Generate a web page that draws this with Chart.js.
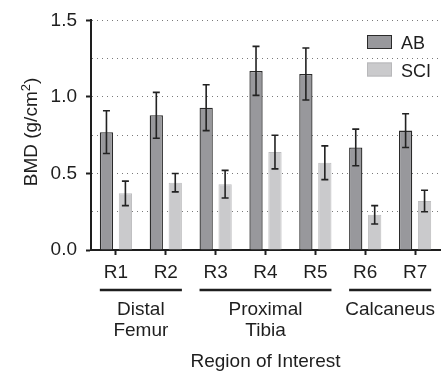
<!DOCTYPE html>
<html>
<head>
<meta charset="utf-8">
<script src="https://cdn.jsdelivr.net/npm/chart.js@4/dist/chart.umd.min.js"></script>
<style>
  html, body { margin: 0; padding: 0; background: #fff; }
  #wrap { width: 442px; height: 372px; }
</style>
</head>
<body>
<div id="wrap"><canvas id="bmdChart" width="442" height="372"></canvas></div>
<script>
// data
const regions = ['R1', 'R2', 'R3', 'R4', 'R5', 'R6', 'R7'];
const abMean = [0.77, 0.88, 0.93, 1.17, 1.15, 0.67, 0.78];
const abErr = [0.14, 0.15, 0.15, 0.16, 0.17, 0.12, 0.11];
const sciMean = [0.37, 0.44, 0.43, 0.64, 0.57, 0.23, 0.32];
const sciErr = [0.08, 0.06, 0.09, 0.11, 0.11, 0.06, 0.07];

// anatomical groups under the region labels
const groupNames = [['Distal', 'Femur'], ['Proximal', 'Tibia'], ['Calcaneus']];
const groupStart = [0, 2, 5];
const groupEnd = [1, 4, 6];

const yTitle = 'BMD (g/cm';
const xTitle = 'Region of Interest';

const FONT = '"Liberation Sans", Arial, Helvetica, sans-serif';
const INK = '#1e1e1e';
const AB_FILL = '#98989c';
const SCI_FILL = '#cacacc';

function isMajor(v) {
	return Math.abs(v * 2 - Math.round(v * 2)) < 1e-6;
}

// error bars, group brackets, legend and titles are drawn here
const extras = {
	id: 'extras',
	afterDatasetsDraw(chart) {
		const ctx = chart.ctx;
		const y = chart.scales.y;
		const errs = [abErr, sciErr];
		ctx.save();
		ctx.strokeStyle = '#222';
		ctx.lineWidth = 1.6;
		chart.data.datasets.forEach((ds, d) => {
			chart.getDatasetMeta(d).data.forEach((bar, i) => {
				let top = y.getPixelForValue(ds.data[i] + errs[d][i]);
				let bot = y.getPixelForValue(ds.data[i] - errs[d][i]);
				let x = bar.x;
				ctx.beginPath();
				ctx.moveTo(x, top); ctx.lineTo(x, bot);
				ctx.moveTo(x - 3.5, top); ctx.lineTo(x + 3.5, top);
				ctx.moveTo(x - 3.5, bot); ctx.lineTo(x + 3.5, bot);
				ctx.stroke();
			});
		});
		ctx.restore();
	},
	afterDraw(chart) {
		const ctx = chart.ctx;
		const area = chart.chartArea;
		const abBars = chart.getDatasetMeta(0).data;
		const sciBars = chart.getDatasetMeta(1).data;
		ctx.save();

		// group brackets + names
		ctx.fillStyle = INK;
		ctx.strokeStyle = INK;
		ctx.lineWidth = 2.6;
		ctx.font = '19px ' + FONT;
		ctx.textAlign = 'center';
		ctx.textBaseline = 'alphabetic';
		for (let g = 0; g < groupNames.length; g++) {
			let a = abBars[groupStart[g]];
			let b = sciBars[groupEnd[g]];
			let x1 = a.x - a.width / 2;
			let x2 = b.x + b.width / 2;
			ctx.beginPath();
			ctx.moveTo(x1, 290); ctx.lineTo(x2, 290);
			ctx.stroke();
			groupNames[g].forEach((line, k) => {
				ctx.fillText(line, (x1 + x2) / 2, 315 + k * 21);
			});
		}

		// x title
		ctx.fillText(xTitle, (area.left + area.right) / 2, 367);

		// y title with superscript
		ctx.save();
		ctx.translate(37, 132);
		ctx.rotate(-Math.PI / 2);
		ctx.textAlign = 'left';
		ctx.font = '19px ' + FONT;
		let w1 = ctx.measureText(yTitle).width;
		let w3 = ctx.measureText(')').width;
		ctx.font = '13px ' + FONT;
		let w2 = ctx.measureText('2').width;
		let x0 = -(w1 + w2 + w3) / 2;
		ctx.font = '19px ' + FONT;
		ctx.fillText(yTitle, x0, 0);
		ctx.fillText(')', x0 + w1 + w2, 0);
		ctx.font = '13px ' + FONT;
		ctx.fillText('2', x0 + w1, -7);
		ctx.restore();

		// legend in the upper right corner
		const items = [['AB', AB_FILL, '#2a2a2a', 35], ['SCI', SCI_FILL, '#b8b8ba', 62.5]];
		ctx.font = '18px ' + FONT;
		ctx.textAlign = 'left';
		items.forEach(it => {
			ctx.fillStyle = it[1];
			ctx.fillRect(367, it[3], 25, 14);
			ctx.strokeStyle = it[2];
			ctx.lineWidth = 1;
			ctx.strokeRect(367.5, it[3] + 0.5, 24, 13);
			ctx.fillStyle = INK;
			ctx.fillText(it[0], 401, it[3] + 14);
		});
		ctx.restore();
	}
};

const ctx = document.getElementById('bmdChart').getContext('2d');
const chart = new Chart(ctx, {
	type: 'bar',
	data: {
		labels: regions,
		datasets: [
			{label: 'AB', data: abMean, backgroundColor: AB_FILL, borderColor: '#2a2a2a', borderWidth: 1.3,
				categoryPercentage: 0.76, barPercentage: 0.7},
			{label: 'SCI', data: sciMean, backgroundColor: SCI_FILL, borderColor: '#bdbdbf', borderWidth: 1,
				categoryPercentage: 0.76, barPercentage: 0.7}
		]
	},
	options: {
		responsive: false,
		animation: false,
		devicePixelRatio: 1,
		layout: {padding: {top: 17, right: 2, left: 0, bottom: 0}},
		plugins: {
			legend: {display: false},
			tooltip: {enabled: false}
		},
		scales: {
			x: {
				grid: {drawOnChartArea: false, offset: false, tickLength: 5, tickWidth: 2, tickColor: INK},
				border: {color: INK, width: 2},
				ticks: {color: INK, font: {family: FONT, size: 19}, padding: 6},
				afterFit: s => { s.height = 122; }
			},
			y: {
				min: 0,
				max: 1.5,
				ticks: {
					stepSize: 0.25,
					color: INK,
					font: {family: FONT, size: 19},
					padding: 9,
					callback: v => isMajor(v) ? v.toFixed(1) : ''
				},
				grid: {
					color: '#7a7a7a',
					lineWidth: 1,
					tickLength: 5,
					tickWidth: 2,
					tickColor: c => (c.tick && isMajor(c.tick.value)) ? INK : 'rgba(0,0,0,0)'
				},
				border: {color: INK, width: 2, dash: [1, 4]},
				afterFit: s => { s.width = 91; }
			}
		}
	},
	plugins: [extras]
});
</script>
</body>
</html>
